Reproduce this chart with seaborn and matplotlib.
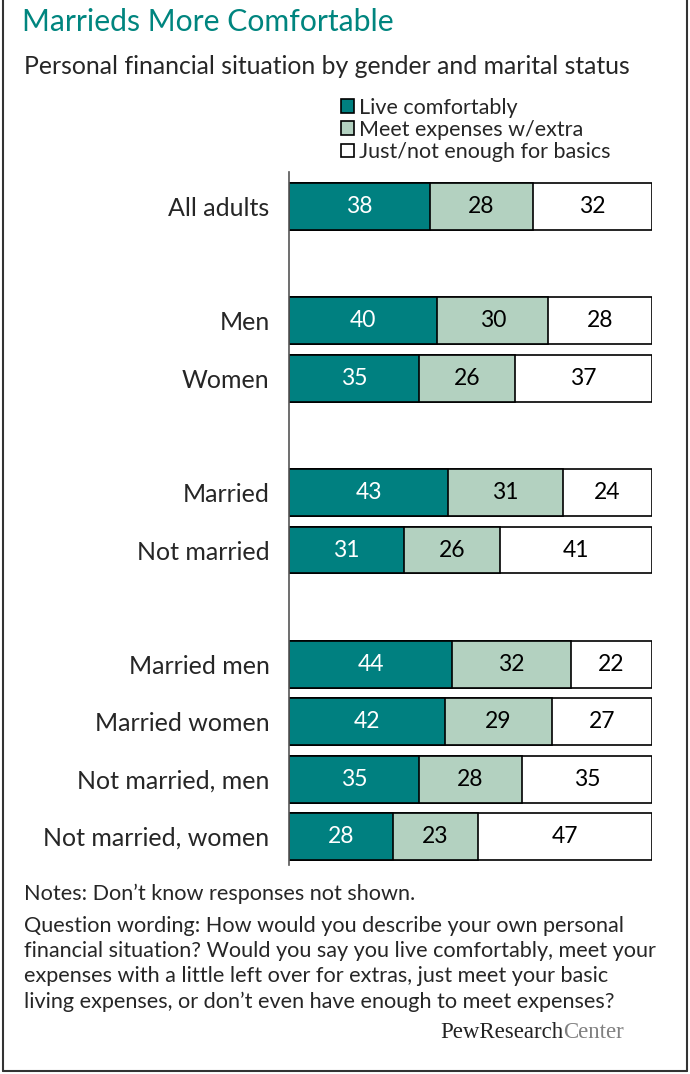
import matplotlib
matplotlib.use("Agg")
import matplotlib.pyplot as plt
from matplotlib.lines import Line2D
from matplotlib.patches import Patch
import numpy as np
import pandas as pd
import seaborn as sns

sns.set_theme(style="white")
plt.rcParams["font.family"] = ["Lato", "DejaVu Sans"]

groups = ["All adults", "Men", "Women", "Married", "Not married",
          "Married men", "Married women", "Not married, men", "Not married, women"]
row_pos = [0, 2, 3, 5, 6, 8, 9, 10, 11]
comfortable = [38, 40, 35, 43, 31, 44, 42, 35, 28]
meet_extra = [28, 30, 26, 31, 26, 32, 29, 28, 23]
basics = [32, 28, 37, 24, 41, 22, 27, 35, 47]
series_names = ["Live comfortably", "Meet expenses w/extra", "Just/not enough for basics"]

TEAL = "#008080"
SAGE = "#b3d1c0"
TITLE = "#00857f"

df = pd.DataFrame({"group": groups, "pos": row_pos, "comfortable": comfortable,
                   "meet_extra": meet_extra, "basics": basics})
df["c1"] = df["comfortable"]
df["c2"] = df["c1"] + df["meet_extra"]
df["c3"] = df["c2"] + df["basics"]

fig = plt.figure(figsize=(6.9, 10.74), dpi=100)
ax = fig.add_axes([289 / 690, 209 / 1074, (652 - 289) / 690, 693 / 1074])

# stacked bars drawn back to front as cumulative totals
for col, color in [("c3", "white"), ("c2", SAGE), ("c1", TEAL)]:
    sns.barplot(data=df, x=col, y="pos", orient="h", native_scale=True, color=color,
                edgecolor="black", linewidth=1.2, width=0.82, saturation=1, ax=ax)

for _, r in df.iterrows():
    ax.text(r["comfortable"] / 2, r["pos"], f"{r['comfortable']}", ha="center", va="center",
            color="white", fontsize=16.5)
    ax.text(r["c1"] + r["meet_extra"] / 2, r["pos"], f"{r['meet_extra']}", ha="center",
            va="center", color="black", fontsize=16.5)
    ax.text(r["c2"] + r["basics"] / 2, r["pos"], f"{r['basics']}", ha="center",
            va="center", color="black", fontsize=16.5)

ax.set_xlim(0, 98)
ax.set_ylim(11.5, -0.6)
ax.set_yticks(row_pos)
ax.set_yticklabels(groups, fontsize=18)
ax.tick_params(axis="y", length=0, pad=14)
ax.set_xticks([])
ax.set_xlabel("")
ax.set_ylabel("")
for side in ["top", "right", "bottom"]:
    ax.spines[side].set_visible(False)
ax.spines["left"].set_color("#555555")
ax.spines["left"].set_linewidth(1.2)

handles = [Patch(facecolor=c, edgecolor="black", linewidth=1.2) for c in (TEAL, SAGE, "white")]
fig.legend(handles, series_names, loc="upper left", bbox_to_anchor=(330 / 690, 1 - 87 / 1074),
           frameon=False, fontsize=15.5, handlelength=0.62, handleheight=0.62,
           handletextpad=0.25, labelspacing=0.1, borderpad=0)

fig.text(22 / 690, 1 - 22 / 1074, "Marrieds More Comfortable", color=TITLE, fontsize=21.7,
         va="center", ha="left")
fig.text(24 / 690, 1 - 66 / 1074, "Personal financial situation by gender and marital status",
         fontsize=17.8, va="center", ha="left")

fig.text(24 / 690, 1 - 894 / 1074, "Notes: Don\u2019t know responses not shown.",
         fontsize=15.6, va="center", ha="left")
fig.text(24 / 690, 1 - 916 / 1074,
         "Question wording: How would you describe your own personal\n"
         "financial situation? Would you say you live comfortably, meet your\n"
         "expenses with a little left over for extras, just meet your basic\n"
         "living expenses, or don\u2019t even have enough to meet expenses?",
         fontsize=15.6, va="top", ha="left", linespacing=1.32)

# logo wordmark: two tones, second part placed after the first
pew = fig.text(440 / 690, 1 - 1033 / 1074, "PewResearch", fontsize=16.5, va="center",
               ha="left", family="Liberation Serif", color="#222222")
renderer = fig.canvas.get_renderer()
bb = pew.get_window_extent(renderer=renderer)
fig.text(bb.x1 / fig.bbox.width, 1 - 1033 / 1074, "Center", fontsize=16.5, va="center",
         ha="left", family="Liberation Serif", color="#808080")

# outer frame
for xs, ys in [([3, 3], [0, 1071]), ([687, 687], [0, 1071]), ([3, 687], [1071, 1071])]:
    fig.add_artist(Line2D(np.array(xs) / 690, 1 - np.array(ys) / 1074, color="#333333",
                          linewidth=1.5, transform=fig.transFigure))

fig.savefig("out.png", dpi=100)
